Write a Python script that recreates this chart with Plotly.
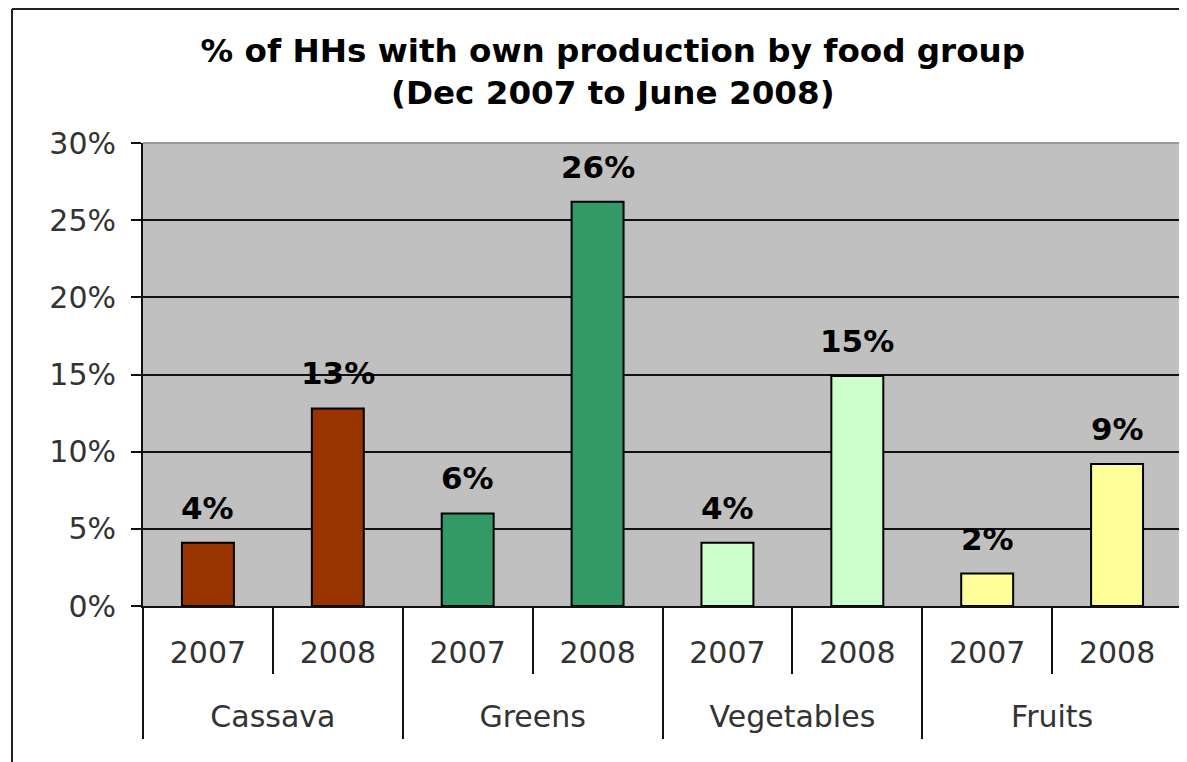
import plotly.graph_objects as go

groups = ["Cassava", "Cassava", "Greens", "Greens", "Vegetables", "Vegetables", "Fruits", "Fruits"]
years = ["2007", "2008", "2007", "2008", "2007", "2008", "2007", "2008"]
values = [4.1, 12.8, 6.0, 26.2, 4.1, 14.9, 2.1, 9.2]
colors = ["#993300", "#993300", "#339966", "#339966", "#CCFFCC", "#CCFFCC", "#FFFF99", "#FFFF99"]
group_names = ["Cassava", "Greens", "Vegetables", "Fruits"]

title_text = "<b>% of HHs with own production by food group<br>(Dec 2007 to June 2008)</b>"

FONT = "DejaVu Sans"
keys = [f"{g} {y}" for g, y in zip(groups, years)]

W, H = 1179, 754
L, R, T, B = 135, 5, 135, 156
PW, PH = W - L - R, H - T - B

fig = go.Figure()
fig.add_trace(go.Bar(
    x=keys,
    y=values,
    marker=dict(color=colors, line=dict(color="#000000", width=2)),
    width=0.4,
    hoverinfo="skip",
))
# invisible trace that defines the food-group axis
fig.add_trace(go.Scatter(
    x=group_names, y=[0] * len(group_names), xaxis="x2",
    mode="markers", marker=dict(opacity=0), hoverinfo="skip", showlegend=False,
))

for k, v in zip(keys, values):
    fig.add_annotation(
        x=k, y=v, xref="x", yref="y", text=f"<b>{v:.0f}%</b>",
        showarrow=False, yanchor="bottom", yshift=15,
        font=dict(family=FONT, size=31, color="#000000"),
    )

fig.update_layout(
    width=W, height=H,
    margin=dict(l=L, r=R, t=T, b=B),
    paper_bgcolor="#FFFFFF",
    plot_bgcolor="#C0C0C0",
    showlegend=False,
    font=dict(family=FONT, color="#222222"),
    title=dict(text=title_text, x=0.513, xanchor="center", xref="container",
               y=0.929, yanchor="middle", yref="container",
               font=dict(family=FONT, size=32.6, color="#000000")),
)

fig.update_yaxes(
    range=[0, 30], dtick=5, ticksuffix="%",
    showgrid=True, gridcolor="#111111", gridwidth=2,
    showline=True, linecolor="#111111", linewidth=2,
    ticks="outside", ticklen=10, tickcolor="#111111", tickwidth=2,
    ticklabelstandoff=9,
    tickfont=dict(family=FONT, size=30, color="#333333"),
    zeroline=False,
)
fig.update_layout(
    xaxis=dict(
        type="category", range=[-0.5, len(keys) - 0.5],
        tickmode="array", tickvals=keys, ticktext=years,
        showgrid=False, showline=True, linecolor="#111111", linewidth=2,
        ticks="outside", tickson="boundaries", ticklen=66, tickcolor="#111111", tickwidth=2,
        ticklabelstandoff=19,
        tickfont=dict(family=FONT, size=30, color="#333333"),
    ),
    xaxis2=dict(
        type="category", overlaying="x", anchor="y", side="bottom",
        range=[-0.5, len(group_names) - 0.5],
        showgrid=False, showline=False, zeroline=False,
        ticks="outside", tickson="boundaries", ticklen=132, tickcolor="#111111", tickwidth=2,
        ticklabelstandoff=90,
        tickfont=dict(family=FONT, size=30, color="#333333"),
    ),
)

# plot area right/top border in gray
fig.add_shape(type="line", xref="paper", yref="paper", x0=0, x1=1, y0=1, y1=1,
              line=dict(color="#999999", width=2))
fig.add_shape(type="line", xref="paper", yref="paper", x0=1, x1=1, y0=0, y1=1,
              line=dict(color="#999999", width=2))
# outer chart frame (left and top edges visible)
fx = -(L - 4) / PW
fy = 1 + (T - 1) / PH
fig.add_shape(type="line", xref="paper", yref="paper",
              x0=fx, x1=1.1, y0=fy, y1=fy, line=dict(color="#222222", width=2))
fig.add_shape(type="line", xref="paper", yref="paper",
              x0=fx, x1=fx, y0=fy, y1=-0.4, line=dict(color="#222222", width=2))

fig.write_html("out.html")
